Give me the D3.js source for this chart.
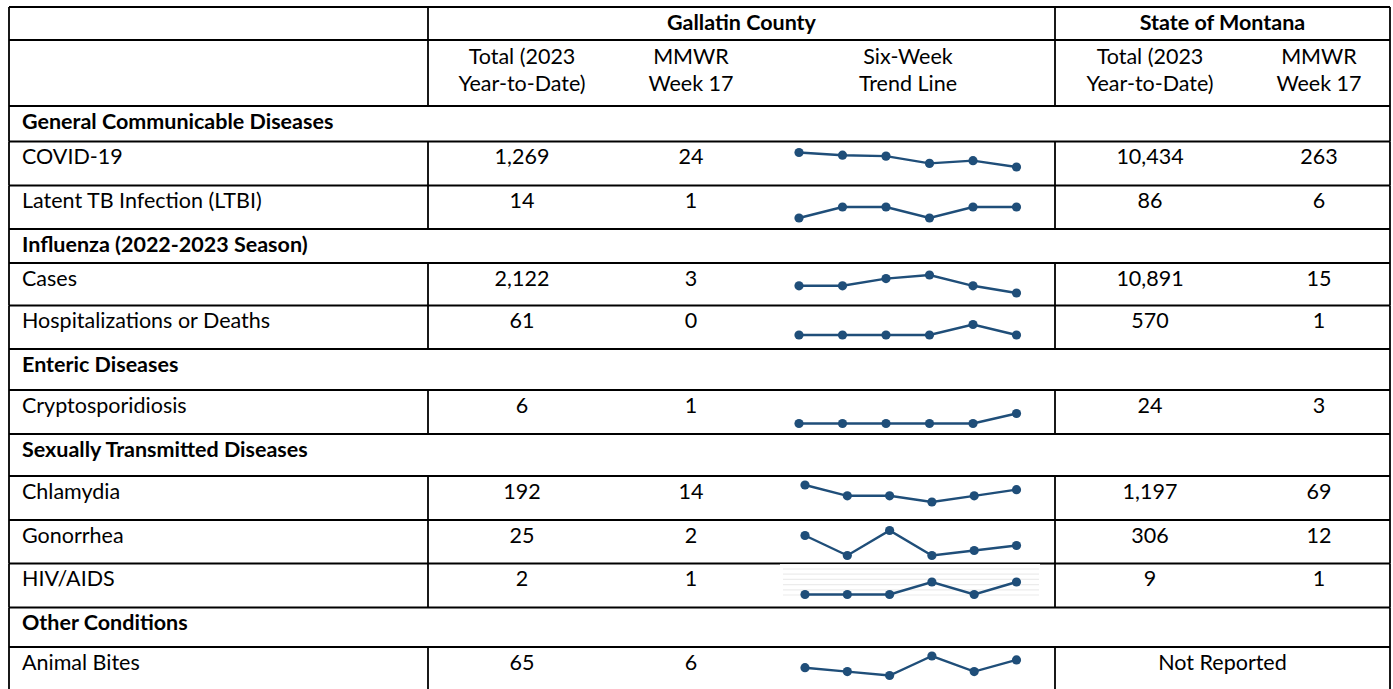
<!DOCTYPE html>
<html>
<head>
<meta charset="utf-8">
<script src="https://cdn.jsdelivr.net/npm/d3@7"></script>
<style>
  body { margin: 0; background: #fff; }
  text { font-family: Lato, "Noto Sans", sans-serif; fill: #000; }
</style>
</head>
<body>
<div id="table"></div>
<script>
// table data
var sections = ["General Communicable Diseases", "Influenza (2022-2023 Season)", "Enteric Diseases",
  "Sexually Transmitted Diseases", "Other Conditions"];
var diseases = ["COVID-19", "Latent TB Infection (LTBI)", "Cases", "Hospitalizations or Deaths",
  "Cryptosporidiosis", "Chlamydia", "Gonorrhea", "HIV/AIDS", "Animal Bites"];
var diseaseSection = [0, 0, 1, 1, 2, 3, 3, 3, 4];
var countyTotal = [1269, 14, 2122, 61, 6, 192, 25, 2, 65];
var countyWeek = [24, 1, 3, 0, 1, 14, 2, 1, 6];
var stateTotal = [10434, 86, 10891, 570, 24, 1197, 306, 9, null];
var stateWeek = [263, 6, 15, 1, 3, 69, 12, 1, null];
var weeks = ["Week 12", "Week 13", "Week 14", "Week 15", "Week 16", "Week 17"];
var trend = [
  [40, 37, 36, 28, 31, 24],
  [0, 1, 1, 0, 1, 1],
  [5, 5, 7, 8, 5, 3],
  [0, 0, 0, 0, 1, 0],
  [0, 0, 0, 0, 0, 1],
  [17, 10, 10, 6, 10, 14],
  [4, 0, 5, 0, 1, 2],
  [0, 0, 0, 1, 0, 1],
  [4, 3, 2, 7, 3, 6]
];

// layout
var svgWidth = 1393, svgHeight = 689;
var xLeft = 9, xCol1 = 428, xCol2 = 1055, xRight = 1390;
var headerEdges = [7, 40, 106];
// row top edges for the body (section + disease rows, in order), last is bottom
var rowEdges = [106, 141.5, 185.5, 229, 263, 305.5, 349, 390, 434, 476, 520, 563.5, 607.5, 647, 691];
// sparkline vertical spans (offset from row top: max value, min value) and x start
var sparkSpan = [[11, 25.5], [21.5, 32.5], [12, 30], [19, 29.5], [23.5, 33.5], [9, 26], [10.5, 35.5], [18.5, 31], [9, 28.5]];
var sparkX0 = [799, 799, 799, 799, 799, 805, 805, 805, 805];
var sparkX1 = 1016.5;
var colX = { cTotal: 522, cWeek: 691, trend: 908, sTotal: 1150, sWeek: 1319 };
var fontSize = 21.5;
var blue = "#1F4E79";
var fmt = d3.format(",");

var svg = d3.select("#table").append("svg")
  .attr("width", svgWidth)
  .attr("height", svgHeight);

// build row list: section rows interleaved with disease rows
var rows = [];
sections.forEach(function(s, si) {
  rows.push({ type: "section", label: s });
  diseases.forEach(function(d, i) {
    if (diseaseSection[i] === si) rows.push({ type: "disease", label: d, i: i });
  });
});
rows.forEach(function(r, k) { r.top = rowEdges[k]; r.bottom = rowEdges[k + 1]; });

var grid = svg.append("g").attr("stroke", "#000").attr("stroke-width", 1.8);

// HIV/AIDS chart picture background (white with faint gridlines)
var hivRow = rows.find(function(r) { return r.label === "HIV/AIDS"; });
var pic = svg.append("g");
pic.append("rect")
  .attr("x", 780).attr("y", hivRow.top + 0.6)
  .attr("width", 260).attr("height", 36)
  .attr("fill", "#fff");
pic.selectAll("line")
  .data(d3.range(6))
  .enter().append("line")
  .attr("x1", 783).attr("x2", 1039)
  .attr("y1", function(d) { return hivRow.top + 5.5 + d * 5.2; })
  .attr("y2", function(d) { return hivRow.top + 5.5 + d * 5.2; })
  .attr("stroke", "#ececec").attr("stroke-width", 1.2);

// header lines
headerEdges.forEach(function(y) {
  grid.append("line").attr("x1", xLeft).attr("x2", xRight).attr("y1", y).attr("y2", y);
});
[xLeft, xCol1, xCol2, xRight].forEach(function(x) {
  grid.append("line").attr("x1", x).attr("x2", x).attr("y1", headerEdges[0]).attr("y2", headerEdges[2]);
});

// body lines
rows.forEach(function(r) {
  grid.append("line").attr("x1", xLeft).attr("x2", xRight).attr("y1", r.bottom).attr("y2", r.bottom);
  var xs = r.type === "section" ? [xLeft, xRight] : [xLeft, xCol1, xCol2, xRight];
  xs.forEach(function(x) {
    grid.append("line").attr("x1", x).attr("x2", x).attr("y1", r.top).attr("y2", r.bottom);
  });
});

// header text
var head = svg.append("g").style("font-size", fontSize + "px");
head.append("text").attr("x", (xCol1 + xCol2) / 2).attr("y", 29.5)
  .attr("text-anchor", "middle").style("font-weight", "bold").text("Gallatin County");
head.append("text").attr("x", (xCol2 + xRight) / 2).attr("y", 29.5)
  .attr("text-anchor", "middle").style("font-weight", "bold").text("State of Montana");

var subHeads = [
  { x: colX.cTotal, lines: ["Total (2023", "Year-to-Date)"] },
  { x: colX.cWeek, lines: ["MMWR", "Week 17"] },
  { x: colX.trend, lines: ["Six-Week", "Trend Line"] },
  { x: colX.sTotal, lines: ["Total (2023", "Year-to-Date)"] },
  { x: colX.sWeek, lines: ["MMWR", "Week 17"] }
];
subHeads.forEach(function(h) {
  h.lines.forEach(function(t, j) {
    head.append("text").attr("x", h.x).attr("y", 64 + j * 27)
      .attr("text-anchor", "middle").text(t);
  });
});

// body text
var body = svg.append("g").style("font-size", fontSize + "px");
rows.forEach(function(r) {
  var base = r.top + 22.5;
  body.append("text").attr("x", 22).attr("y", base)
    .style("font-weight", r.type === "section" ? "bold" : "normal")
    .text(r.label);
  if (r.type !== "disease") return;
  var i = r.i;
  body.append("text").attr("x", colX.cTotal).attr("y", base).attr("text-anchor", "middle").text(fmt(countyTotal[i]));
  body.append("text").attr("x", colX.cWeek).attr("y", base).attr("text-anchor", "middle").text(fmt(countyWeek[i]));
  if (stateTotal[i] == null) {
    body.append("text").attr("x", (xCol2 + xRight) / 2).attr("y", base).attr("text-anchor", "middle").text("Not Reported");
  } else {
    body.append("text").attr("x", colX.sTotal).attr("y", base).attr("text-anchor", "middle").text(fmt(stateTotal[i]));
    body.append("text").attr("x", colX.sWeek).attr("y", base).attr("text-anchor", "middle").text(fmt(stateWeek[i]));
  }
});

// sparklines
rows.filter(function(r) { return r.type === "disease"; }).forEach(function(r) {
  var i = r.i;
  var vals = trend[i];
  var x = d3.scalePoint().domain(weeks).range([sparkX0[i], sparkX1]);
  var y = d3.scaleLinear().domain(d3.extent(vals))
    .range([r.top + sparkSpan[i][1], r.top + sparkSpan[i][0]]);
  var line = d3.line()
    .x(function(d, k) { return x(weeks[k]); })
    .y(function(d) { return y(d); });
  var g = svg.append("g");
  g.append("path").datum(vals)
    .attr("d", line)
    .attr("fill", "none")
    .attr("stroke", blue)
    .attr("stroke-width", 2.4);
  g.selectAll("circle").data(vals).enter().append("circle")
    .attr("cx", function(d, k) { return x(weeks[k]); })
    .attr("cy", function(d) { return y(d); })
    .attr("r", 4.6)
    .attr("fill", blue);
});
</script>
</body>
</html>
